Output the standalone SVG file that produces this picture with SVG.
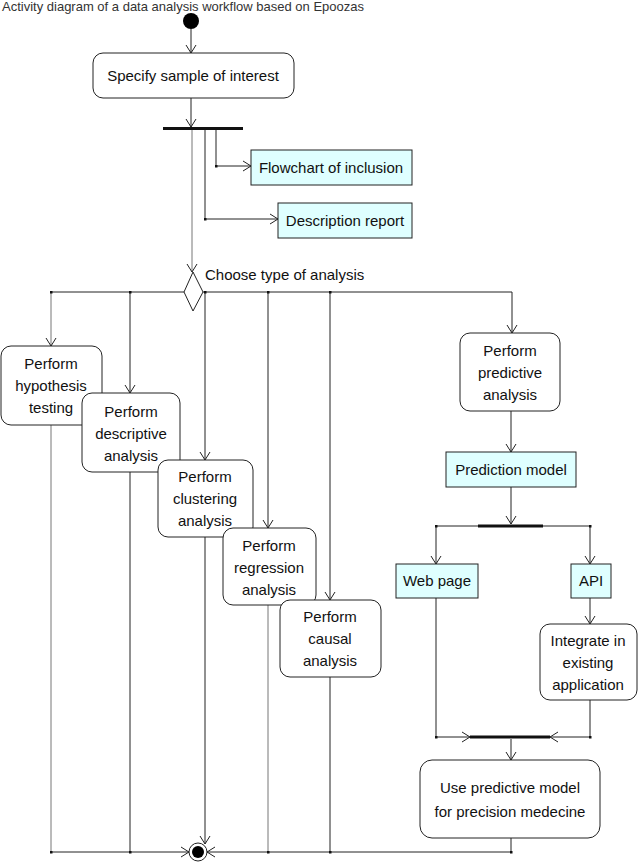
<svg xmlns="http://www.w3.org/2000/svg" width="640" height="865" viewBox="0 0 640 865">
<style>
text{font-family:"Liberation Sans",Arial,sans-serif;font-size:15px;fill:#111}
.c{text-anchor:middle}
.cap{font-size:13px;fill:#333}
.act{fill:#fff;stroke:#222;stroke-width:1}
.obj{fill:#dfffff;stroke:#222;stroke-width:1}
.ln{fill:none;stroke:#222;stroke-width:1}
.gl{fill:none;stroke:#777;stroke-width:1}
.bar{fill:#111}
</style>
<defs>
<marker id="a" markerWidth="10" markerHeight="12" refX="9" refY="6" orient="auto" markerUnits="userSpaceOnUse">
<path d="M1,1 L9,6 L1,11" fill="none" stroke="#222" stroke-width="1"/>
</marker>
</defs>
<rect width="640" height="865" fill="#fff"/>
<text class="cap" x="2" y="11">Activity diagram of a data analysis workflow based on Epoozas</text>

<g id="connectors">
<path class="ln" d="M191,29 V53" marker-end="url(#a)"/>
<path class="ln" d="M191,98 V127" marker-end="url(#a)"/>
<path class="gl" d="M192,130 V272" marker-end="url(#a)"/>
<path class="ln" d="M205,130 V219 H278" marker-end="url(#a)"/>
<path class="ln" d="M216,130 V166 H251" marker-end="url(#a)"/>
<path class="ln" d="M51,292 H184 M203,292 H512"/>
<path class="gl" d="M51,292 V346" marker-end="url(#a)"/>
<path class="ln" d="M130,292 V393" marker-end="url(#a)"/>
<path class="ln" d="M205,292 V460" marker-end="url(#a)"/>
<path class="ln" d="M268,292 V528" marker-end="url(#a)"/>
<path class="ln" d="M330,292 V600" marker-end="url(#a)"/>
<path class="ln" d="M512,292 V333" marker-end="url(#a)"/>
<path class="gl" d="M51,425 V852"/>
<path class="ln" d="M130,472 V852"/>
<path class="ln" d="M205,537 V844" marker-end="url(#a)"/>
<path class="gl" d="M268,605 V852"/>
<path class="ln" d="M330,677 V852"/>
<path class="ln" d="M51,852 H189" marker-end="url(#a)"/>
<path class="ln" d="M511,838 V852 H207" marker-end="url(#a)"/>
<path class="ln" d="M511,411 V452" marker-end="url(#a)"/>
<path class="ln" d="M511,487 V524" marker-end="url(#a)"/>
<path class="ln" d="M436,526 H478 M543,526 H590"/>
<path class="ln" d="M436,526 V564" marker-end="url(#a)"/>
<path class="ln" d="M590,526 V564" marker-end="url(#a)"/>
<path class="ln" d="M590,598 V624" marker-end="url(#a)"/>
<path class="ln" d="M436,598 V737 H470" marker-end="url(#a)"/>
<path class="ln" d="M590,700 V737 H550" marker-end="url(#a)"/>
<path class="ln" d="M511,739 V760" marker-end="url(#a)"/>
<g fill="#111">
<rect x="204" y="218" width="2.5" height="2.5"/>
<rect x="215" y="165" width="2.5" height="2.5"/>
<rect x="50" y="291" width="2.5" height="2.5"/>
<rect x="129" y="291" width="2.5" height="2.5"/>
<rect x="204" y="291" width="2.5" height="2.5"/>
<rect x="267" y="291" width="2.5" height="2.5"/>
<rect x="329" y="291" width="2.5" height="2.5"/>
<rect x="50" y="851" width="2.5" height="2.5"/>
<rect x="129" y="851" width="2.5" height="2.5"/>
<rect x="267" y="851" width="2.5" height="2.5"/>
<rect x="329" y="851" width="2.5" height="2.5"/>
<rect x="510" y="851" width="2.5" height="2.5"/>
<rect x="435" y="525" width="2.5" height="2.5"/>
<rect x="589" y="525" width="2.5" height="2.5"/>
<rect x="435" y="736" width="2.5" height="2.5"/>
<rect x="589" y="736" width="2.5" height="2.5"/>
</g>
</g>

<g id="start"><circle cx="191" cy="21" r="8" fill="#000"/></g>
<g id="specify"><rect class="act" x="93" y="53" width="201" height="45" rx="10"/><text class="c" x="193" y="81">Specify sample of interest</text></g>
<g id="fork1"><rect class="bar" x="163" y="127" width="80" height="3"/></g>
<g id="flowchart"><rect class="obj" x="251" y="150" width="161" height="35"/><text class="c" x="331" y="173">Flowchart of inclusion</text></g>
<g id="description"><rect class="obj" x="278" y="203" width="134" height="35"/><text class="c" x="345" y="226">Description report</text></g>
<g id="decision"><path d="M193,272 L203,292 L193,311 L184,292 Z" fill="#fff" stroke="#222"/><text x="205" y="280">Choose type of analysis</text></g>

<g id="hypothesis"><rect class="act" x="1" y="346" width="101" height="79" rx="10"/><text class="c" x="51" y="369">Perform</text><text class="c" x="51" y="391">hypothesis</text><text class="c" x="51" y="413">testing</text></g>
<g id="descriptive"><rect class="act" x="82" y="393" width="98" height="79" rx="10"/><text class="c" x="131" y="417">Perform</text><text class="c" x="131" y="439">descriptive</text><text class="c" x="131" y="461">analysis</text></g>
<g id="clustering"><rect class="act" x="158" y="460" width="95" height="77" rx="10"/><text class="c" x="205" y="482">Perform</text><text class="c" x="205" y="504">clustering</text><text class="c" x="205" y="526">analysis</text></g>
<g id="regression"><rect class="act" x="223" y="528" width="93" height="77" rx="10"/><text class="c" x="269" y="551">Perform</text><text class="c" x="269" y="573">regression</text><text class="c" x="269" y="595">analysis</text></g>
<g id="causal"><rect class="act" x="280" y="600" width="101" height="77" rx="10"/><text class="c" x="330" y="622">Perform</text><text class="c" x="330" y="644">causal</text><text class="c" x="330" y="666">analysis</text></g>

<g id="predictive"><rect class="act" x="460" y="333" width="100" height="78" rx="10"/><text class="c" x="510" y="356">Perform</text><text class="c" x="510" y="378">predictive</text><text class="c" x="510" y="400">analysis</text></g>
<g id="model"><rect class="obj" x="446" y="452" width="130" height="35"/><text class="c" x="511" y="475">Prediction model</text></g>
<g id="fork2"><rect class="bar" x="478" y="524.5" width="65" height="3"/></g>
<g id="webpage"><rect class="obj" x="396" y="564" width="82" height="34"/><text class="c" x="437" y="586">Web page</text></g>
<g id="api"><rect class="obj" x="571" y="564" width="40" height="34"/><text class="c" x="591" y="586">API</text></g>
<g id="integrate"><rect class="act" x="540" y="624" width="97" height="76" rx="10"/><text class="c" x="588" y="646">Integrate in</text><text class="c" x="588" y="668">existing</text><text class="c" x="588" y="690">application</text></g>
<g id="join2"><rect class="bar" x="470" y="735.5" width="80" height="3"/></g>
<g id="use"><rect class="act" x="420" y="760" width="180" height="78" rx="12"/><text class="c" x="510" y="793">Use predictive model</text><text class="c" x="510" y="817">for precision medecine</text></g>
<g id="end"><circle cx="198" cy="852" r="9" fill="#fff" stroke="#222"/><circle cx="198" cy="852" r="6" fill="#000"/></g>
</svg>
